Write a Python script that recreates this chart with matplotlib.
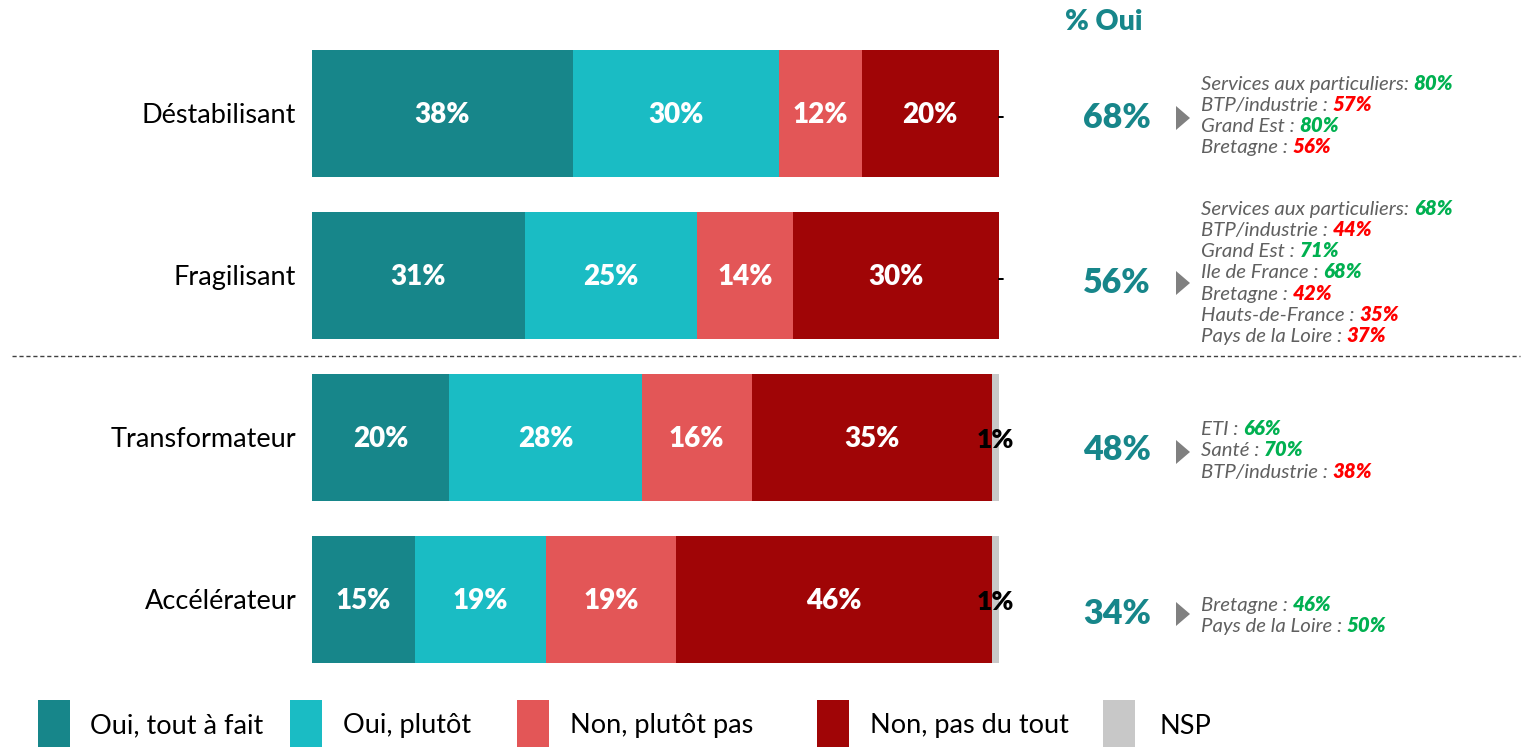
import matplotlib
matplotlib.use("Agg")
import matplotlib.pyplot as plt
from matplotlib.patches import Rectangle, Polygon
from matplotlib.lines import Line2D

plt.rcParams['font.family'] = ['Lato', 'DejaVu Sans']

# ---------------- data ----------------
categories = ["Déstabilisant", "Fragilisant", "Transformateur", "Accélérateur"]
series_names = ["Oui, tout à fait", "Oui, plutôt", "Non, plutôt pas", "Non, pas du tout", "NSP"]
oui_tout_a_fait = [38, 31, 20, 15]
oui_plutot = [30, 25, 28, 19]
non_plutot_pas = [12, 14, 16, 19]
non_pas_du_tout = [20, 30, 35, 46]
nsp = [0, 0, 1, 1]
pct_oui = ["68%", "56%", "48%", "34%"]
details = [
    [("Services aux particuliers: ", "80%", "g"), ("BTP/industrie : ", "57%", "r"),
     ("Grand Est : ", "80%", "g"), ("Bretagne : ", "56%", "r")],
    [("Services aux particuliers: ", "68%", "g"), ("BTP/industrie : ", "44%", "r"),
     ("Grand Est : ", "71%", "g"), ("Ile de France : ", "68%", "g"),
     ("Bretagne : ", "42%", "r"), ("Hauts-de-France : ", "35%", "r"),
     ("Pays de la Loire : ", "37%", "r")],
    [("ETI : ", "66%", "g"), ("Santé : ", "70%", "g"), ("BTP/industrie : ", "38%", "r")],
    [("Bretagne : ", "46%", "g"), ("Pays de la Loire : ", "50%", "g")],
]

colors = ["#17868A", "#1ABCC4", "#E35657", "#A00506", "#C8C8C8"]
label_colors = ["white", "white", "white", "white", "black"]
TEAL = "#17868A"
GREEN = "#00B050"
RED = "#FF0000"
GREY_TXT = "#606060"

W, H = 1524, 747
fig = plt.figure(figsize=(W / 100, H / 100), dpi=100)

def fx(px):
    return px / W

def fy(py):
    return 1 - py / H

# axes: x 0..100 maps to pixels 312..999 ; full figure height
x0_px, x1_px = 312, 999
ax = fig.add_axes([fx(x0_px), 0, (x1_px - x0_px) / W, 1])
row0, step = 113.5, 162.0
ax.set_xlim(0, 100)
ax.set_ylim((H - row0) / step, -row0 / step)
ax.axis("off")

series = [oui_tout_a_fait, oui_plutot, non_plutot_pas, non_pas_du_tout, nsp]
ypos = list(range(len(categories)))
bar_h = 127 / step
left = [0] * len(categories)
for si, vals in enumerate(series):
    ax.barh(ypos, vals, left=left, height=bar_h, color=colors[si], linewidth=0)
    for i, v in enumerate(vals):
        cx = left[i] + v / 2
        if si == 4:
            if v == 0:
                ax.text(left[i] + 0.2, i + 0.02, "-", ha="center", va="center",
                        fontsize=15, color="black", fontweight="bold", clip_on=False)
            else:
                ax.text(cx, i + 0.018, f"{v}%", ha="center", va="center", fontsize=19,
                        color="black", fontweight="heavy", clip_on=False)
        else:
            ax.text(cx, i + 0.012, f"{v}%", ha="center", va="center", fontsize=20,
                    color=label_colors[si], fontweight="heavy")
    left = [l + v for l, v in zip(left, vals)]

# category labels
for i, c in enumerate(categories):
    ax.text(-2.3, i + 0.015, c, ha="right", va="center", fontsize=19.5, color="black",
            clip_on=False)

# dashed separator
fig.add_artist(Line2D([fx(12), fx(1520)], [fy(356), fy(356)], color="#404040",
                      linewidth=1, linestyle=(0, (3, 2))))

# "% Oui" header
fig.text(fx(1104), fy(22), "% Oui", ha="center", va="center", fontsize=20.5,
         fontweight="heavy", color=TEAL)

big_y = [118, 283, 450, 614]
tri_y = [118, 283, 452, 614]
for i in range(len(categories)):
    fig.text(fx(1117), fy(big_y[i]), pct_oui[i], ha="center", va="center",
             fontsize=24.5, fontweight="heavy", color=TEAL)
    ty = tri_y[i]
    fig.add_artist(Polygon([[fx(1176), fy(ty - 12)], [fx(1176), fy(ty + 12)],
                            [fx(1190), fy(ty)]], closed=True, facecolor="#808080",
                           edgecolor="none", transform=fig.transFigure))
    lines = details[i]
    n = len(lines)
    sp = 21.3
    center = [116, 273, 451, 616][i]
    start = center - sp * (n - 1) / 2
    for k, (lab, val, col) in enumerate(lines):
        yk = start + k * sp
        t = fig.text(fx(1201), fy(yk), lab, ha="left", va="center", fontsize=14.7,
                     style="italic", color=GREY_TXT)
        ax.annotate(val, xy=(1, 0), xycoords=t, ha="left", va="bottom", fontsize=14.7,
                    style="italic", fontweight="heavy",
                    color=GREEN if col == "g" else RED, annotation_clip=False)

# legend
sw_x = [38, 290, 517, 817, 1103]
tx_x = [90, 343, 570, 870, 1160]
for k, name in enumerate(series_names):
    fig.add_artist(Rectangle((fx(sw_x[k]), fy(747)), 32 / W, 47 / H,
                             transform=fig.transFigure, facecolor=colors[k],
                             edgecolor="none"))
    fig.text(fx(tx_x[k]), fy(726), name, ha="left", va="center", fontsize=19.5,
             color="black")

fig.savefig("out.png", dpi=100)
